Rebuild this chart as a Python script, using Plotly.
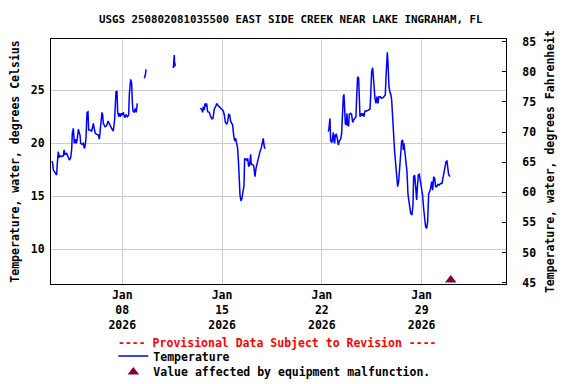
import pandas as pd
import plotly.graph_objects as go

# hours since 2026-01-03 00:00 (None = gap in record)
hours = [
    1.7, 2.8, 3.9, 6.2, 7.9, 9.5, 10.7, 12.3, 13.5, 15.2, 18.0, 20.8, 21.9, 23.6, 26.4, 28.1,
    29.7, 30.9, 33.1, 34.8, 35.9, 37.6, 39.3, 41.0, 42.1, 43.8, 46.0, 47.7, 48.8, 50.0, 52.2,
    54.4, 56.1, 57.2, 58.9, 60.6, 62.3, 63.4, 65.6, 68.5, 71.3, 73.0, 74.6, 76.9, 79.7, 81.4,
    83.6, 85.8, 87.0, 88.1, 90.9, 93.7, 96.0, 98.2, 100.4, 102.7, 104.9, 107.2, 109.4, 111.1,
    112.2, 113.9, 115.0, 116.7, 118.4, 120.1, 121.8, 124.0, 126.3, 128.5, 130.7, 131.9, 134.1,
    135.8, 136.9, 138.0, 140.3, 141.8, 143.6, 145.3,
    None,
    157.1, 158.8, 159.9, 161.0,
    None,
    205.9, 206.5, 207.6, 208.2, 209.3,
    None,
    250.8, 253.6, 255.3, 256.4, 258.1, 259.2, 260.9, 262.0, 263.7, 266.5, 268.8, 271.0, 272.7,
    274.9, 277.2, 278.9, 280.6, 283.4, 285.6, 287.8, 290.1, 291.8, 293.5, 295.7, 297.4, 299.1,
    300.8, 302.4, 304.1, 305.8, 307.5, 309.2, 310.9, 312.5, 314.2, 315.9, 317.0, 318.2, 319.8,
    321.5, 323.2, 324.9, 326.0, 327.7, 329.4, 331.1, 332.8, 334.4, 336.1, 337.2, 338.9, 341.2,
    343.4, 345.1, 347.3, 349.6, 351.8, 354.1, 355.7, 357.4, 358.6, 359.7, 360.8,
    None,
    466.9, 468.0, 469.7, 470.8, 473.0, 474.2, 475.3, 476.4, 477.5, 478.6, 480.3, 482.0, 483.7,
    485.4, 487.6, 489.3, 490.4, 492.1, 493.2, 494.4, 495.5, 497.2, 498.3, 499.4, 501.1, 502.2,
    504.5, 506.1, 507.8, 509.5, 511.7, 513.4, 514.5, 516.2, 517.9, 519.0, 520.2, 521.8, 523.5,
    525.2, 526.9, 528.6, 531.4, 534.2, 537.0, 538.1, 539.8, 541.5, 543.2, 545.4, 547.1, 548.8,
    550.5, 552.1, 554.4, 556.6, 558.9, 561.1, 562.8, 563.9, 565.1, 566.2, 567.3, 569.0, 570.7,
    572.3, 573.5, 575.2, 576.8, 578.5, 580.2, 581.9, 583.6, 585.3, 587.0, 588.6, 590.3, 592.0,
    593.1, 594.2, 595.9, 597.6, 599.3, 601.0, 603.2, 605.5, 607.7, 609.4, 610.5, 612.2, 613.9,
    615.6, 616.7, 618.4, 620.0, 622.3, 624.0, 625.6, 627.3, 629.0, 630.7, 632.4, 634.1, 635.8,
    637.5, 639.1, 640.8, 642.5, 644.2, 645.9, 647.5, 649.2, 651.5, 653.7, 656.0, 658.2, 659.9,
    661.6, 663.3, 665.0, 666.6, 667.7, 669.4, 671.7,
]

temp_c = [
    18.33, 18.11, 17.48, 17.26, 17.16, 17.01, 18.17, 19.21, 18.64, 18.83, 18.74, 18.83, 19.37,
    18.96, 19.05, 18.83, 18.64, 18.42, 18.64, 19.43, 20.94, 21.41, 19.99, 20.40, 19.99, 20.22,
    21.32, 21.10, 20.78, 19.99, 19.90, 19.99, 19.52, 19.68, 20.47, 22.92, 22.98, 21.25, 21.25,
    21.16, 21.88, 21.35, 20.94, 20.84, 20.78, 20.40, 22.10, 22.92, 22.67, 21.88, 21.57, 21.66,
    22.10, 21.79, 21.57, 21.35, 21.16, 22.29, 24.87, 24.93, 22.98, 22.51, 22.83, 22.51, 22.83,
    22.67, 22.92, 22.42, 22.67, 22.51, 22.67, 24.62, 26.03, 25.66, 23.93, 23.05, 22.92, 23.30,
    22.92, 23.77,
    None,
    26.13, 26.44, 26.91, 26.91,
    None,
    27.10, 27.86, 28.33, 27.23, 27.54,
    None,
    23.30, 23.24, 22.92, 23.46, 23.14, 23.77, 23.46, 23.77, 22.98, 22.92, 22.51, 22.29, 22.35,
    23.24, 23.46, 23.77, 23.61, 23.46, 23.30, 23.24, 23.05, 22.67, 21.98, 21.79, 22.04, 22.73,
    22.67, 22.10, 21.79, 21.72, 20.78, 20.22, 20.47, 20.09, 19.52, 17.95, 15.91, 15.12, 14.56,
    14.81, 15.44, 16.00, 18.58, 18.52, 18.42, 18.58, 17.79, 18.01, 18.96, 18.01, 18.01, 17.89,
    16.85, 17.64, 18.20, 18.89, 19.21, 19.59, 20.15, 20.47, 19.84, 19.52, 19.59,
    None,
    21.10, 21.41, 22.35, 20.22, 20.09, 20.47, 21.03, 20.22, 19.99, 20.78, 20.84, 20.47, 19.84,
    20.22, 20.40, 20.94, 22.98, 24.40, 24.62, 22.98, 21.88, 21.72, 22.83, 21.72, 21.66, 22.73,
    22.83, 22.73, 21.98, 22.20, 22.35, 22.51, 24.24, 26.28, 26.13, 24.40, 22.51, 22.83, 22.67,
    22.83, 22.51, 23.05, 23.05, 23.14, 23.24, 24.40, 26.76, 27.13, 25.34, 24.24, 23.77, 24.40,
    23.77, 24.40, 24.40, 24.24, 24.30, 24.40, 24.56, 26.13, 28.27, 28.58, 27.70, 25.34, 24.81,
    24.56, 24.08, 22.20, 20.47, 19.21, 18.11, 16.76, 15.91, 16.38, 17.64, 19.37, 20.22, 20.31,
    19.37, 19.99, 19.21, 18.42, 17.32, 15.18, 14.24, 13.39, 13.24, 14.18, 16.85, 17.01, 15.91,
    14.65, 15.75, 17.01, 17.07, 16.38, 15.75, 15.12, 13.86, 12.76, 12.13, 11.97, 12.61, 15.28,
    15.44, 15.75, 16.38, 15.59, 16.85, 16.69, 15.91, 15.91, 16.13, 16.06, 16.22, 16.22, 16.76,
    17.07, 17.64, 18.27, 18.33, 17.64, 17.07, 16.85,
]

malfunction_time = ["2026-01-31 01:00"]
malfunction_c = [7.1]

tick_dates = ["2026-01-08", "2026-01-15", "2026-01-22", "2026-01-29"]
tick_labels = ["Jan<br>08<br>2026", "Jan<br>15<br>2026", "Jan<br>22<br>2026", "Jan<br>29<br>2026"]
celsius_ticks = [10, 15, 20, 25]
fahrenheit_ticks = [45, 50, 55, 60, 65, 70, 75, 80, 85]

start = pd.Timestamp("2026-01-03 00:00")
times = [None if h is None else start + pd.Timedelta(hours=h) for h in hours]

FONT = "DejaVu Sans Mono"
FS = 11.5

fig = go.Figure()
fig.add_trace(go.Scatter(
    x=times, y=temp_c, mode="lines", name="Temperature",
    line=dict(color="#0000ff", width=1.5), connectgaps=False, legend="legend",
))
fig.add_trace(go.Scatter(
    x=pd.to_datetime(malfunction_time), y=malfunction_c, mode="markers",
    name="Value affected by equipment malfunction.",
    marker=dict(symbol="triangle-up", size=10, color="#800040"), legend="legend2",
))
fig.add_trace(go.Scatter(x=[None], y=[None], yaxis="y2", showlegend=False, hoverinfo="skip"))

legend_common = dict(
    x=0.137, xanchor="left", yanchor="middle", bgcolor="rgba(0,0,0,0)",
    itemwidth=30, font=dict(family=FONT, size=FS, weight="bold"),
)

# page body adds an 8px offset; margins compensate for it
fig.update_layout(
    width=576, height=384,
    margin=dict(l=43, r=78, t=31, b=108, autoexpand=False),
    paper_bgcolor="white", plot_bgcolor="white",
    font=dict(family=FONT, size=FS, color="black", weight="bold"),
    title=dict(
        text="USGS 250802081035500 EAST SIDE CREEK NEAR LAKE INGRAHAM, FL",
        x=0.491, xref="container", y=0.9714, yref="container", yanchor="middle",
        font=dict(family=FONT, size=10.8, weight="bold"),
    ),
    xaxis=dict(
        type="date", range=["2026-01-03 00:00", "2026-02-03 22:00"],
        tickvals=pd.to_datetime(tick_dates), ticktext=tick_labels,
        showgrid=True, gridcolor="#cccccc", gridwidth=1,
        showline=True, linecolor="black", linewidth=1, mirror=True,
        ticks="", zeroline=False, automargin=False,
    ),
    yaxis=dict(
        range=[6.73, 29.84], tickvals=celsius_ticks,
        showgrid=True, gridcolor="#cccccc", gridwidth=1,
        showline=True, linecolor="black", linewidth=1, mirror=True,
        ticks="", zeroline=False, automargin=False, ticklabelstandoff=3,
        title=dict(text="Temperature, water, degrees Celsius", standoff=8,
                   font=dict(family=FONT, size=FS, weight="bold")),
    ),
    yaxis2=dict(
        overlaying="y", side="right", range=[44.78, 85.43], tickvals=fahrenheit_ticks,
        showgrid=False, zeroline=False, showline=True, linecolor="black",
        ticks="inside", ticklen=4, tickcolor="black", automargin=False,
        ticklabelstandoff=13,
        title=dict(text="Temperature, water, degrees Fahrenheit", standoff=10,
                   font=dict(family=FONT, size=FS, weight="bold")),
    ),
    legend=dict(y=-0.294, **legend_common),
    legend2=dict(y=-0.359, **legend_common),
    showlegend=True,
    annotations=[dict(
        text="---- Provisional Data Subject to Revision ----",
        xref="paper", yref="paper", x=0.497, y=-0.241, xanchor="center", yanchor="middle",
        showarrow=False, font=dict(family=FONT, size=FS, color="#ff0000", weight="bold"),
    )],
)

fig.write_html("out.html")
